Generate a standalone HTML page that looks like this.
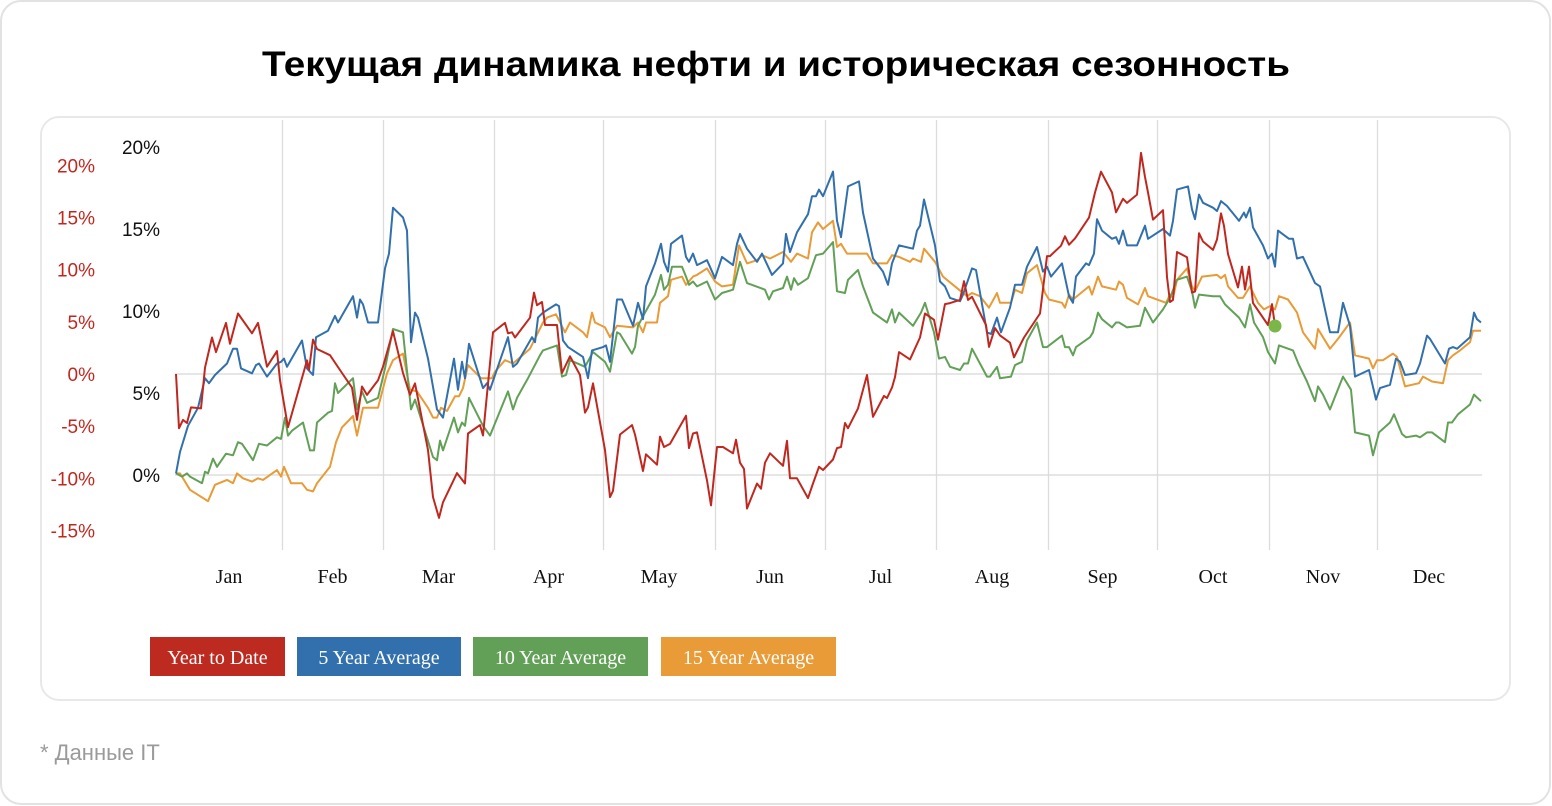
<!DOCTYPE html>
<html><head><meta charset="utf-8">
<style>
html,body{margin:0;padding:0;background:#fff;width:1552px;height:806px;overflow:hidden;}
svg{display:block;}
</style></head>
<body>
<svg id="chart" width="1552" height="806" viewBox="0 0 1552 806" xmlns="http://www.w3.org/2000/svg">
  <rect x="1" y="1" width="1549" height="803" rx="20" fill="#fff" stroke="#e2e2e2" stroke-width="2"/>
  <text x="776" y="76" text-anchor="middle" font-family="'Liberation Sans', sans-serif" font-weight="bold" font-size="35" textLength="1028" lengthAdjust="spacingAndGlyphs" fill="#000">Текущая динамика нефти и историческая сезонность</text>
  <rect x="41" y="117" width="1469" height="583" rx="18" fill="#fff" stroke="#e8e8e8" stroke-width="2"/>
  <g id="grid"></g>
  <g id="axes"></g>
  <g id="series"></g>
  <g font-family="'Liberation Serif', serif" font-size="20" fill="#fff">
    <g><rect x="150" y="637" width="135" height="39" fill="#bd2a1f"/><text x="217.5" y="664" text-anchor="middle">Year to Date</text></g>
    <g><rect x="297" y="637" width="164" height="39" fill="#3170ac"/><text x="379" y="664" text-anchor="middle">5 Year Average</text></g>
    <g><rect x="473" y="637" width="175" height="39" fill="#62a057"/><text x="560.5" y="664" text-anchor="middle">10 Year Average</text></g>
    <g><rect x="661" y="637" width="175" height="39" fill="#e89b36"/><text x="748.5" y="664" text-anchor="middle">15 Year Average</text></g>
  </g>
  <text x="40" y="760" font-family="'Liberation Sans', sans-serif" font-size="22" fill="#9a9a9a">* Данные IT</text>
</svg>
<script>
const months = ["Jan","Feb","Mar","Apr","May","Jun","Jul","Aug","Sep","Oct","Nov","Dec"];
const monthStarts = [0,21.2,41.4,63.6,85.4,107.8,129.8,152,174.4,196.2,218.6,240.2,261];
const leftTicks = [-15,-10,-5,0,5,10,15,20];
const rightTicks = [0,5,10,15,20];
const ytdDays = [0,0.6,1.4,2.2,3,5,5.8,7.2,8,10,10.8,12.4,15.2,16.4,18.2,20.2,20.8,22.4,26.2,26.6,27.4,28.2,30.8,33.2,35.2,36.2,37.2,38.2,40.4,41.4,43.4,45.4,46.8,47.8,50.4,51.4,52.6,53.4,56.2,57.8,58.4,60.8,61.4,63.4,65.8,66.4,67.2,67.8,70.8,71.6,72.2,73.2,73.8,76.2,77.2,78.8,80.8,81.8,82.4,83.4,85.8,86.8,87.4,88.8,91.2,91.8,93.4,94,96.2,96.8,97.6,98.8,102,102.6,103.4,104.2,106.2,107,108.2,109.4,111.4,112,112.8,113.6,114.2,116.2,117,117.8,118.8,121.4,122.2,122.8,124.2,126.4,127.4,128.6,129.4,131.4,132.2,133,133.8,134.4,136.4,138.2,139.4,141.6,142.2,143.2,143.8,144.6,146.8,148.8,149.8,151.6,152.4,153.8,154.8,156.8,157.6,158.4,159.2,162,162.6,163.8,164.8,166.8,167.6,169.6,172.8,174.2,174.8,177,177.8,178.6,179.8,182.6,183.8,185,187.2,188,189.4,190.2,192.2,193,193.8,194.4,195.4,197.4,198.2,198.8,199.4,200.2,202.2,203.2,203.8,204.6,205.4,207.4,208.2,209,209.6,210.4,212.4,213.2,213.8,214.6,215.4,218.4,219.2,219.8];
const ytdVals = [0,-5.2,-4.4,-4.7,-3.2,-3.3,0.6,3.5,2.1,4.9,2.9,5.8,3.9,4.9,0.7,2.2,-0.6,-5.1,1.3,0.4,3.3,2.4,1.8,0.1,-1.3,-4.4,-1.2,-2.0,-0.6,0.7,4.1,0.1,-2.0,-0.9,-7.3,-11.8,-13.8,-12.3,-9.5,-10.5,-5.7,-4.9,-5.9,4.0,4.9,3.9,4.0,3.5,5.4,7.8,6.6,6.9,4.7,4.7,0.1,1.7,-0.1,-3.7,-3.2,-0.9,-7.3,-11.8,-11.2,-5.8,-4.9,-5.8,-9.3,-7.7,-8.7,-6.0,-7.0,-6.7,-4.0,-7.1,-5.7,-5.6,-10.2,-12.6,-7.0,-7.0,-7.6,-6.3,-8.5,-9.1,-12.9,-10.5,-11.0,-8.5,-7.6,-8.8,-6.4,-10.0,-10.0,-11.9,-10.5,-8.9,-9.2,-8.2,-7.1,-7.0,-4.7,-5.2,-3.3,-0.1,-4.1,-2.1,-2.3,-1.3,-0.3,2.1,1.4,3.5,5.8,5.2,3.3,6.7,6.8,7.1,8.9,7.1,7.4,4.7,2.6,4.4,3.7,3.0,1.6,3.5,5.8,11.3,11.3,12.3,13.2,12.4,13.0,15.0,17.4,19.4,17.4,15.5,16.8,16.4,17.2,21.2,18.9,17.4,14.8,15.7,9.3,6.9,7.1,11.7,11.2,7.8,7.9,13.5,12.7,11.9,12.9,15.4,14.2,11.5,8.3,10.3,8.1,10.3,6.8,4.7,6.7,4.6];
const avg5Days = [0,0.8,2.4,4.4,5.8,6.6,7.8,10.2,11.4,12.2,13,15.2,16,16.6,18.2,20.2,21,21.6,22.2,25.2,26.2,27.4,28,30.4,31.8,32.4,35.4,36.2,36.8,37.4,38.4,40.4,41.8,42.6,43.4,45.4,46.2,47,47.8,48.4,50.4,52.2,53.4,55.6,56.4,57.2,57.8,58.6,61.4,62.2,62.8,66.4,67.4,68.2,71.2,71.8,72.4,73.4,76,76.6,77.4,78.4,81.4,82.4,83.2,85.4,86,86.8,88.2,89.2,91.4,92.4,93.4,94,95.8,97,97.6,98.4,99,101.2,102,102.6,103.4,104.2,106.2,107.8,109.2,111.4,112.2,112.8,114.2,116.2,117.2,119.2,121.4,122,122.8,124.2,126.4,127.2,128,128.6,129.4,131.4,132.2,133,134.4,136.6,137.4,139.4,141.4,142.4,143.2,144.6,147.4,148.2,148.8,149.6,151.8,152.8,153.8,154.8,156.8,157.4,159.2,160,162.2,163,164.2,165,166.8,167.8,169.2,170.2,172.2,173.4,174.2,175,177.2,178.6,179.4,180,182,182.6,183.6,184.2,185.2,187.2,188,188.6,189.4,190.2,192.2,193.8,194.4,197.4,198.8,199.4,200.2,202.4,203.2,203.8,204.6,205.4,207.4,208.2,209,210.2,212.6,213.6,214,214.8,215.4,217.4,218.4,219.2,219.8,220.4,222.6,223.4,224.2,225.4,227.8,228.8,230.8,232.4,233.4,234.8,235.8,238.6,240,240.8,242.8,244,244.8,245.8,248,248.8,250.2,250.8,253.8,254.6,255.4,256.2,258.8,259.6,260.2,261];
const avg5Vals = [0.1,1.4,3.0,4.1,5.9,5.6,6.1,6.8,7.7,7.7,6.5,6.2,6.7,6.8,6.0,6.8,6.9,7.1,6.6,8.2,6.5,6.1,8.4,8.8,9.7,9.3,10.9,9.6,10.7,10.4,9.3,9.3,12.6,13.5,16.3,15.7,14.9,8.1,9.9,9.6,7.1,4.0,3.5,7.1,5.2,6.9,5.9,8.0,5.3,5.6,5.2,8.4,6.6,6.8,8.4,8.1,9.6,9.9,10.4,10.3,8.2,7.8,7.2,5.9,7.6,7.8,7.9,6.9,10.7,10.7,9.1,10.5,9.5,11.5,12.9,14.1,13.0,12.4,14.1,14.6,13.3,13.0,13.5,12.8,13.1,12.0,13.3,12.8,14.1,14.7,13.8,13.0,13.5,12.2,12.9,14.7,13.6,14.8,15.9,17.0,17.0,17.4,17.0,18.5,15.5,14.5,17.6,17.9,16.0,13.2,12.4,11.6,12.9,14.0,13.8,14.9,15.2,16.8,14.0,11.8,11.5,10.8,10.6,11.0,12.6,12.5,8.7,8.6,9.6,8.7,10.2,11.6,11.6,12.7,13.9,12.4,12.7,12.1,12.9,10.9,10.5,12.1,12.9,12.8,13.5,15.6,14.9,14.4,14.5,14.1,14.9,14.0,14.0,15.2,14.4,15.0,14.6,15.5,17.4,17.6,16.2,15.6,17.1,16.6,16.3,16.1,16.7,16.4,15.5,16.0,15.7,16.3,15.1,14.0,13.2,13.5,12.7,14.9,14.4,14.4,13.2,13.3,11.7,11.5,8.7,8.7,10.5,9.1,6.0,6.4,4.6,5.3,5.5,7.1,6.9,6.1,6.2,6.8,8.5,8.3,6.8,7.7,7.8,7.7,8.4,9.9,9.5,9.3];
const avg10Days = [0,1.2,2.2,2.8,5.2,5.8,6.4,7.4,8.2,10,11.4,12.4,13.2,15.4,16.6,18.2,20.2,21,21.8,22.4,23.2,25.4,26.8,27.6,28.2,30.4,31.2,31.8,32.4,35.4,36.2,37.2,38.2,40.4,41.8,43.4,45.4,47,47.8,51.4,52.2,52.8,53.4,55.6,56.4,57.2,57.8,58.6,61.4,62.8,66.4,67.4,68.2,70.4,72.8,73.4,76.2,77.2,78,78.8,81.8,83.4,85.8,86.8,88.2,88.8,91.2,91.8,92.4,93.8,95.8,97,97.6,98.4,99.2,101.2,102,102.6,103.4,104.2,106.2,107.8,109.2,111.4,112.8,114.2,117.8,118.6,119.4,121.4,122.2,123,123.6,124.4,126.4,128,129.4,131.4,132.2,133.8,134.4,136.4,137.4,139.4,142.2,143.2,143.8,144.6,147.4,149,149.8,151.6,152.6,153.8,154.8,156.8,157.6,158.4,159.2,162.2,162.8,164.2,164.8,167,167.8,169.2,170.2,172.2,173.4,174.2,177.2,177.8,178.6,179.4,180,182.8,183.4,184.4,185.2,187.2,188,188.6,190.2,192.8,193.8,195.4,197.4,198.8,200.2,202.2,203.2,203.8,204.6,207.4,208.8,209.8,212.6,213.8,214.8,215.6,217.4,218.4,219.8,220.6,223.4,224.6,226.2,227.8,228.4,229.4,230.8,233.4,235,235.8,238.6,239.4,240.6,242.8,243.6,245.2,246,248,248.8,250.2,251.2,253.8,254.4,255.2,256.4,258.8,259.6,261];
const avg10Vals = [0.1,-0.1,0.1,-0.1,-0.5,0.2,0.1,1.0,0.5,1.3,1.2,2.0,1.9,0.9,1.9,1.8,2.3,2.2,3.5,2.4,2.7,3.2,1.5,1.5,3.2,3.8,3.9,5.6,5.0,5.9,4.0,5.1,4.4,4.7,6.5,8.9,8.7,4.0,4.6,1.1,0.9,2.1,1.5,3.5,2.6,3.2,3.0,4.7,3.0,2.4,5.1,4.0,4.7,5.9,7.3,7.6,7.9,6.0,6.1,7.0,6.6,7.5,6.9,6.3,8.7,8.6,7.4,7.8,9.1,9.9,11.0,12.2,11.3,11.6,12.7,12.7,12.1,11.6,11.8,11.5,11.8,10.7,11.1,11.3,13.0,11.7,11.3,10.7,11.2,11.4,12.1,11.3,12.0,11.6,12.0,13.4,13.5,14.2,11.2,11.1,11.9,12.5,11.5,9.9,9.3,10.1,9.3,9.9,9.1,9.9,10.5,8.7,7.1,7.2,6.6,6.4,6.8,6.8,7.7,6.0,6.0,6.6,5.9,6.0,6.7,6.9,8.2,9.3,7.8,7.8,8.5,7.8,7.8,7.3,7.8,8.4,8.7,9.9,9.5,9.0,9.3,9.3,9.0,9.1,10.2,9.3,10.1,10.8,11.9,12.1,11.2,10.2,11.0,10.9,10.9,10.4,9.6,9.0,10.4,9.3,8.4,7.5,6.8,7.9,7.6,6.7,5.7,4.5,5.4,4.9,4.0,6.0,5.2,2.6,2.4,1.2,2.6,3.2,3.7,2.5,2.3,2.4,2.3,2.6,2.6,2.0,3.2,3.2,3.7,4.3,4.9,4.5];
const avg15Days = [0,0.8,2.8,6.4,7.8,10.2,11.4,12.2,13.4,15.2,16.4,17.4,20.2,21,21.6,23,25.2,26.2,27.4,28.2,30.8,32,33.2,35.4,36.2,37.4,40.4,42.2,43.4,45.4,46.8,48.2,50.4,51.4,52.2,53,54.2,55.8,56.6,57.4,58.4,61,63.2,63.8,65.8,67.4,70.8,73.4,74.2,76,77.8,78.8,81.4,82.2,83.2,83.8,85.8,86.8,88.2,91.4,92.4,93.4,94,96.2,96.8,98.4,99,101.2,102,103.4,104.2,106.2,107.8,109.2,111.4,112.6,114.2,116.2,117.2,118.8,121.4,123,124.2,126.4,127.2,128.4,129.4,131.4,132.2,133,134.2,137.4,138.2,139.4,142.2,143.2,144.6,146.8,147.4,149,149.6,151.8,153.4,155.4,158.2,159.2,160.8,162.6,164.2,164.8,167,167.8,169.2,170.2,172.2,173.8,174.6,177.2,177.8,178.6,179.4,182.6,183.2,184.4,185.2,188,188.6,189.4,190.2,192.4,193.8,194.4,198,198.8,199.4,200.2,202.2,203.2,203.8,205.2,208.2,209,209.8,210.4,212.4,213.4,214.8,216.4,217.6,218.8,219.8,220.6,222.4,224.2,225.4,227.8,228.4,229.4,230.8,232.4,234.8,235.8,238.6,239.4,240.2,241.4,243.4,244.2,245.8,248.6,249.4,251.2,253.4,254.4,255.4,256.8,258.8,259.4,261];
const avg15Vals = [0.1,0.1,-0.9,-1.6,-0.6,-0.3,-0.5,0.1,-0.2,-0.4,-0.2,-0.3,0.3,-0.1,0.5,-0.5,-0.5,-0.9,-1.0,-0.5,0.5,2.0,2.9,3.6,2.4,4.1,4.1,6.2,7.0,7.4,5.2,5.1,4.1,3.5,3.5,4.1,3.9,4.8,4.8,5.3,6.7,5.9,5.9,6.3,7.0,6.8,7.7,9.3,9.6,9.8,8.7,9.3,8.7,8.4,9.9,9.3,9.0,8.4,9.1,9.0,9.3,8.7,9.3,9.3,10.5,10.9,11.9,12.1,11.6,12.1,12.2,12.6,11.8,11.5,11.6,14.0,12.9,13.1,13.4,13.2,13.6,13.0,13.5,13.2,14.8,15.4,15.0,15.5,13.9,14.1,13.5,13.5,13.5,12.9,12.9,13.4,13.3,13.0,13.2,13.0,13.8,13.0,12.1,11.6,10.9,11.1,10.9,10.2,11.1,10.5,10.5,11.3,11.1,12.3,12.8,11.1,10.7,10.5,10.2,11.0,10.7,11.5,11.0,12.1,11.5,11.3,11.8,11.6,10.8,10.4,11.4,10.9,10.5,11.0,10.8,11.9,12.6,11.5,11.2,12.1,12.2,12.0,12.2,11.5,10.8,10.8,11.5,10.5,10.1,10.3,10.1,10.9,10.7,9.9,8.7,7.7,8.9,8.4,7.7,8.3,9.3,7.3,7.1,6.5,7.0,7.0,7.4,7.2,5.4,5.6,6.0,5.7,5.6,7.0,7.3,7.6,8.1,8.8,8.8];

const NS = "http://www.w3.org/2000/svg";
const X0 = 176, X1 = 1481, D0 = 0, D1 = 261;
function xScale(d){ return X0 + (d - D0) / (D1 - D0) * (X1 - X0); }
function yLeft(v){ return 374 - v * 10.43; }
function yRight(v){ return 475 - v * 16.4; }
function mk(tag, attrs, parent){ const e = document.createElementNS(NS, tag); for (const k in attrs) e.setAttribute(k, attrs[k]); parent.appendChild(e); return e; }

const grid = document.getElementById('grid');
const axes = document.getElementById('axes');
const series = document.getElementById('series');

for (let i = 1; i < monthStarts.length - 1; i++) {
  const gx = Math.round(xScale(monthStarts[i])) + 0.5;
  const l = mk('line', {x1: gx, x2: gx, y1: 120, y2: 550, stroke: '#dcdcdc', 'stroke-width': 1.3}, grid);
  
  
}
[yLeft(0), yRight(0)].forEach(function(yy){
  const l = mk('line', {x1: 175, x2: 1482, y1: yy, y2: yy, stroke: '#d8d8d8', 'stroke-width': 1.3}, grid);
  
  
});

leftTicks.forEach(function(v){
  const t = mk('text', {x: 95, y: yLeft(v) + 7, 'text-anchor': 'end', 'font-family': "'Liberation Sans', sans-serif", 'font-size': 19, fill: '#c0281f'}, axes);
  t.textContent = v + '%';
  
  
});
rightTicks.forEach(function(v){
  const t = mk('text', {x: 160, y: yRight(v) + 7, 'text-anchor': 'end', 'font-family': "'Liberation Sans', sans-serif", 'font-size': 19, fill: '#111'}, axes);
  t.textContent = v + '%';
  
  
});
months.forEach(function(m, i){
  const cx = xScale((monthStarts[i] + monthStarts[i + 1]) / 2);
  const t = mk('text', {x: cx, y: 583, 'text-anchor': 'middle', 'font-family': "'Liberation Serif', serif", 'font-size': 20, fill: '#111'}, axes);
  t.textContent = m;
  
  
});

function drawLine(days, vals, yfn, color, name){
  let d = '';
  for (let i = 0; i < days.length; i++) d += (i ? 'L' : 'M') + xScale(days[i]).toFixed(1) + ',' + yfn(vals[i]).toFixed(1);
  const p = mk('path', {d: d, fill: 'none', stroke: color, 'stroke-width': 2, 'stroke-linejoin': 'round'}, series);
  
  
}
drawLine(avg15Days, avg15Vals, yRight, '#e89b36', 'line-15-year-average');
drawLine(avg10Days, avg10Vals, yRight, '#62a057', 'line-10-year-average');
drawLine(avg5Days, avg5Vals, yRight, '#3170ac', 'line-5-year-average');
drawLine(ytdDays, ytdVals, yLeft, '#c0281f', 'line-year-to-date');
const last = ytdDays.length - 1;
const dot = mk('circle', {cx: xScale(ytdDays[last]), cy: yLeft(ytdVals[last]), r: 6.5, fill: '#7ab648'}, series);


</script>
</body></html>
